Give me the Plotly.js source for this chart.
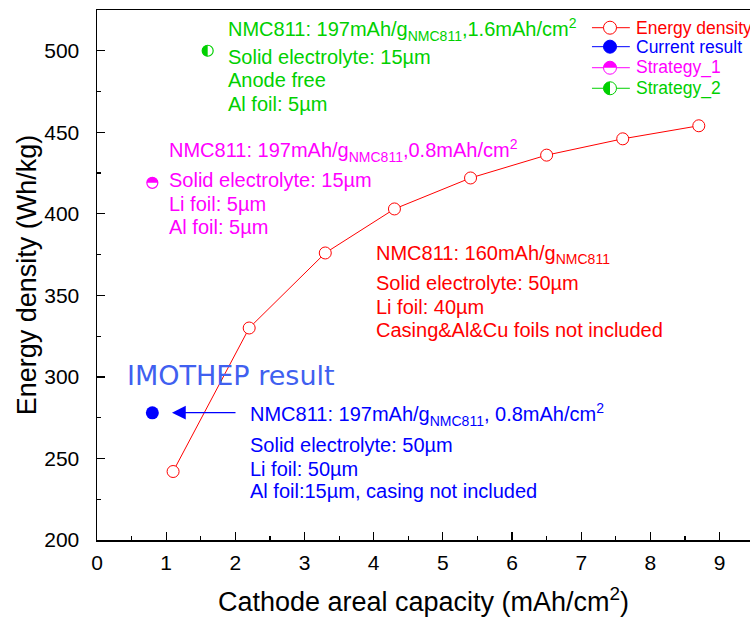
<!DOCTYPE html>
<html>
<head>
<meta charset="utf-8">
<script src="https://cdn.plot.ly/plotly-3.0.1.min.js"></script>
<style>html,body{margin:0;padding:0;background:#fff;}#chart{width:750px;height:619px;}</style>
</head>
<body>
<div id="chart"></div>
<script>
// ---- data ----
const capacity = [1.1, 2.2, 3.3, 4.3, 5.4, 6.5, 7.6, 8.7];
const energyDensity = [242, 330, 376, 403, 422, 436, 446, 454];
const currentX = [0.8];
const currentY = [278];
const strategy1X = [0.8];
const strategy1Y = [419];
const strategy2X = [1.6];
const strategy2Y = [500];
const seriesNames = ['Energy density', 'Current result', 'Strategy_1', 'Strategy_2'];
const xTickVals = [0, 1, 2, 3, 4, 5, 6, 7, 8, 9];
const yTickVals = [200, 250, 300, 350, 400, 450, 500];

const RED = '#ff0000', BLUE = '#0000ff', MAG = '#ff00ff', GRN = '#00d000', IMO = '#4060f0';
const FONT = 'Arial, "Liberation Sans", sans-serif';

const traces = [
  {x: capacity, y: energyDensity, name: seriesNames[0], mode: 'lines+markers', type: 'scatter',
   line: {color: RED, width: 1},
   marker: {symbol: 'circle', size: 12, color: '#ffffff', line: {color: RED, width: 1}}},
  {x: currentX, y: currentY, name: seriesNames[1], mode: 'markers', type: 'scatter',
   marker: {symbol: 'circle', size: 13, color: BLUE, line: {width: 0}}},
  {x: strategy1X, y: strategy1Y, name: seriesNames[2], mode: 'markers', type: 'scatter',
   marker: {symbol: 'circle', size: 11, color: '#ffffff', line: {color: MAG, width: 1.2}}},
  {x: strategy2X, y: strategy2Y, name: seriesNames[3], mode: 'markers', type: 'scatter',
   marker: {symbol: 'circle', size: 11, color: '#ffffff', line: {color: GRN, width: 1.2}}}
];

const K = 0.5523;
function upperHalf(r) {
  return `M ${-r},0 C ${-r},${K*r} ${-K*r},${r} 0,${r} C ${K*r},${r} ${r},${K*r} ${r},0 Z`;
}
function leftHalf(r) {
  return `M 0,${r} C ${-K*r},${r} ${-r},${K*r} ${-r},0 C ${-r},${-K*r} ${-K*r},${-r} 0,${-r} Z`;
}

const shapes = [];
// half fills on the strategy points (anchored on data values)
shapes.push({type: 'path', xref: 'x', yref: 'y', xsizemode: 'pixel', ysizemode: 'pixel',
  xanchor: strategy1X[0], yanchor: strategy1Y[0], path: upperHalf(5.5),
  fillcolor: MAG, line: {width: 0}, layer: 'above'});
shapes.push({type: 'path', xref: 'x', yref: 'y', xsizemode: 'pixel', ysizemode: 'pixel',
  xanchor: strategy2X[0], yanchor: strategy2Y[0], path: leftHalf(5.5),
  fillcolor: GRN, line: {width: 0}, layer: 'above'});

// custom legend
const legX0 = 0.758, legX1 = 0.816, legXm = 0.7856, legTextX = 0.8224;
const legRows = [0.9666, 0.9308, 0.8911, 0.8523];
const legColors = [RED, BLUE, MAG, GRN];
const annotations = [];
legRows.forEach((ry, i) => {
  const c = legColors[i];
  shapes.push({type: 'line', xref: 'paper', yref: 'paper', x0: legX0, x1: legX1, y0: ry, y1: ry,
    line: {color: c, width: 1}, layer: 'above'});
  shapes.push({type: 'circle', xref: 'paper', yref: 'paper', xsizemode: 'pixel', ysizemode: 'pixel',
    xanchor: legXm, yanchor: ry, x0: -6.5, x1: 6.5, y0: -6.5, y1: 6.5,
    fillcolor: i === 1 ? BLUE : '#ffffff', line: {color: c, width: 1}, layer: 'above'});
  if (i === 2) shapes.push({type: 'path', xref: 'paper', yref: 'paper', xsizemode: 'pixel', ysizemode: 'pixel',
    xanchor: legXm, yanchor: ry, path: upperHalf(6.5), fillcolor: MAG, line: {width: 0}, layer: 'above'});
  if (i === 3) shapes.push({type: 'path', xref: 'paper', yref: 'paper', xsizemode: 'pixel', ysizemode: 'pixel',
    xanchor: legXm, yanchor: ry, path: leftHalf(6.5), fillcolor: GRN, line: {width: 0}, layer: 'above'});
  annotations.push({xref: 'paper', yref: 'paper', x: legTextX, y: ry, xanchor: 'left', yanchor: 'middle',
    text: seriesNames[i], showarrow: false, font: {family: FONT, size: 17.5, color: c}});
});

function block(x, ys, lines, color) {
  lines.forEach((t, i) => annotations.push({xref: 'x', yref: 'y', x: x, y: ys[i], xanchor: 'left', yanchor: 'middle',
    text: t, showarrow: false, font: {family: FONT, size: 20, color: color}}));
}
block(1.865, [513.1, 496.3, 481.9, 467.5],
  ['NMC811: 197mAh/g<sub>NMC811</sub>,1.6mAh/cm<sup>2</sup>', 'Solid electrolyte: 15µm', 'Anode free', 'Al foil: 5µm'], GRN);
block(1.012, [438.7, 420.6, 405.8, 391.7],
  ['NMC811: 197mAh/g<sub>NMC811</sub>,0.8mAh/cm<sup>2</sup>', 'Solid electrolyte: 15µm', 'Li foil: 5µm', 'Al foil: 5µm'], MAG);
block(4.005, [374.8, 357.7, 343.1, 328.8],
  ['NMC811: 160mAh/g<sub>NMC811</sub>', 'Solid electrolyte: 50µm', 'Li foil: 40µm', 'Casing&amp;Al&amp;Cu foils not included'], RED);
block(2.183, [276.7, 258.0, 243.7, 230.1],
  ['NMC811: 197mAh/g<sub>NMC811</sub>, 0.8mAh/cm<sup>2</sup>', 'Solid electrolyte: 50µm', 'Li foil: 50µm', 'Al foil:15µm, casing not included'], BLUE);

annotations.push({xref: 'x', yref: 'y', x: 0.405, y: 300.6, xanchor: 'left', yanchor: 'middle',
  text: 'IMOTHEP result', showarrow: false, font: {family: '"DejaVu Sans", sans-serif', size: 27, color: IMO}});

// arrow pointing at current result
annotations.push({xref: 'x', yref: 'y', axref: 'x', ayref: 'y', x: 1.084, y: 278.1, ax: 2.024, ay: 278.1,
  text: '', showarrow: true, arrowhead: 2, arrowsize: 2.3, arrowwidth: 1.2, arrowcolor: BLUE, standoff: 0});

const layout = {
  width: 750, height: 619,
  margin: {l: 97, r: 0, t: 10, b: 79},
  paper_bgcolor: '#ffffff', plot_bgcolor: '#ffffff',
  showlegend: false,
  font: {family: FONT, color: '#000'},
  xaxis: {
    range: [0, 9.44], tickvals: xTickVals, ticks: 'inside', ticklen: 8, tickwidth: 1.2, tickcolor: '#000',
    minor: {dtick: 0.5, tick0: 0, ticks: 'inside', ticklen: 4, tickwidth: 1.2, tickcolor: '#000'},
    showline: true, linecolor: '#000', linewidth: 1.5, mirror: true, showgrid: false, zeroline: false,
    tickfont: {family: FONT, size: 21, color: '#000'}, ticklabelstandoff: 3,
    title: {text: 'Cathode areal capacity (mAh/cm<sup>2</sup>)', font: {family: FONT, size: 27, color: '#000'}, standoff: 19}
  },
  yaxis: {
    range: [200, 525], tickvals: yTickVals, ticks: 'inside', ticklen: 8, tickwidth: 1.2, tickcolor: '#000',
    minor: {dtick: 25, tick0: 200, ticks: 'inside', ticklen: 4, tickwidth: 1.2, tickcolor: '#000'},
    showline: true, linecolor: '#000', linewidth: 1.5, mirror: true, showgrid: false, zeroline: false,
    tickfont: {family: FONT, size: 21, color: '#000'}, ticklabelstandoff: 12,
    title: {text: 'Energy density (Wh/kg)', font: {family: FONT, size: 27, color: '#000'}, standoff: 0}
  },
  shapes: shapes,
  annotations: annotations
};

Plotly.newPlot('chart', traces, layout, {staticPlot: true, displayModeBar: false});
</script>
</body>
</html>
